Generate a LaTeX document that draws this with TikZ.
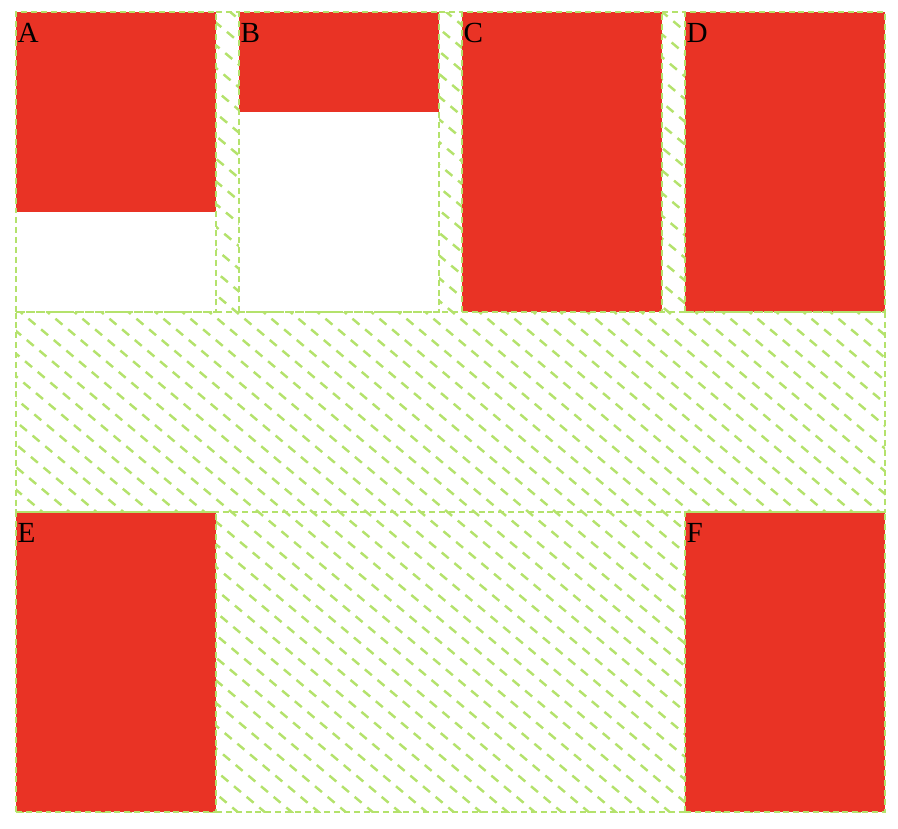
\documentclass[tikz,border=0pt]{standalone}
\usepackage{fontspec}
\setmainfont{Liberation Serif}
\definecolor{cellred}{RGB}{233,51,37}
\definecolor{gridgreen}{RGB}{180,226,108}
\tikzset{
  cellbox/.style = {rectangle, draw=gridgreen, line width=0.6pt, dash pattern=on 1.7pt off 1.1pt, anchor=north west, minimum width=2cm, minimum height=3cm, inner sep=0, outer sep=0},
  fillbox/.style = {rectangle, fill=#1, anchor=north west, minimum width=2cm, inner sep=0, outer sep=0},
  gridline/.style = {draw=gridgreen, line width=0.6pt, dash pattern=on 1.7pt off 1.1pt},
  hatch/.style   = {draw=gridgreen, line width=0.7pt, dash pattern=on 2.6pt off 2.1pt},
  lbl/.style     = {anchor=base west, inner sep=0, font=\fontsize{8.3}{10}\selectfont}
}

\begin{document}
\begin{tikzpicture}[y=-1cm]

  \useasboundingbox (0,0) rectangle (8.98,8.28);

  % hatched grid background
  \begin{scope}
    \clip (0.16,0.12) rectangle (8.85,8.12);
    \foreach \i in {-37,...,34}
      \draw[hatch] (\i*0.27,0) -- ++(10,8.4);
  \end{scope}

  % cell fills
  \node[fillbox=white,   minimum height=3cm] (Aback) at (0.16,0.12) {};
  \node[fillbox=white,   minimum height=3cm] (Bback) at (2.39,0.12) {};
  \node[fillbox=cellred, minimum height=2cm] (Ared)  at (0.16,0.12) {};
  \node[fillbox=cellred, minimum height=1cm] (Bred)  at (2.39,0.12) {};
  \node[fillbox=cellred, minimum height=3cm] (Cred)  at (4.62,0.12) {};
  \node[fillbox=cellred, minimum height=3cm] (Dred)  at (6.85,0.12) {};
  \node[fillbox=cellred, minimum height=3cm] (Ered)  at (0.16,5.12) {};
  \node[fillbox=cellred, minimum height=3cm] (Fred)  at (6.85,5.12) {};

  % grid lines
  \node[cellbox] (A) at (0.16,0.12) {};
  \node[cellbox] (B) at (2.39,0.12) {};
  \node[cellbox] (C) at (4.62,0.12) {};
  \node[cellbox] (D) at (6.85,0.12) {};
  \node[cellbox] (E) at (0.16,5.12) {};
  \node[cellbox] (F) at (6.85,5.12) {};
  \node[cellbox, minimum width=8.69cm, minimum height=2cm] (band) at (0.16,3.12) {};
  \draw[gridline] (A.north east) -- (B.north west);
  \draw[gridline] (B.north east) -- (C.north west);
  \draw[gridline] (C.north east) -- (D.north west);
  \draw[gridline] (E.south east) -- (F.south west);

  % labels
  \node[lbl] (lA) at (0.17,0.42) {A};
  \node[lbl] (lB) at (2.40,0.42) {B};
  \node[lbl] (lC) at (4.63,0.42) {C};
  \node[lbl] (lD) at (6.86,0.42) {D};
  \node[lbl] (lE) at (0.17,5.42) {E};
  \node[lbl] (lF) at (6.86,5.42) {F};

\end{tikzpicture}
\end{document}
